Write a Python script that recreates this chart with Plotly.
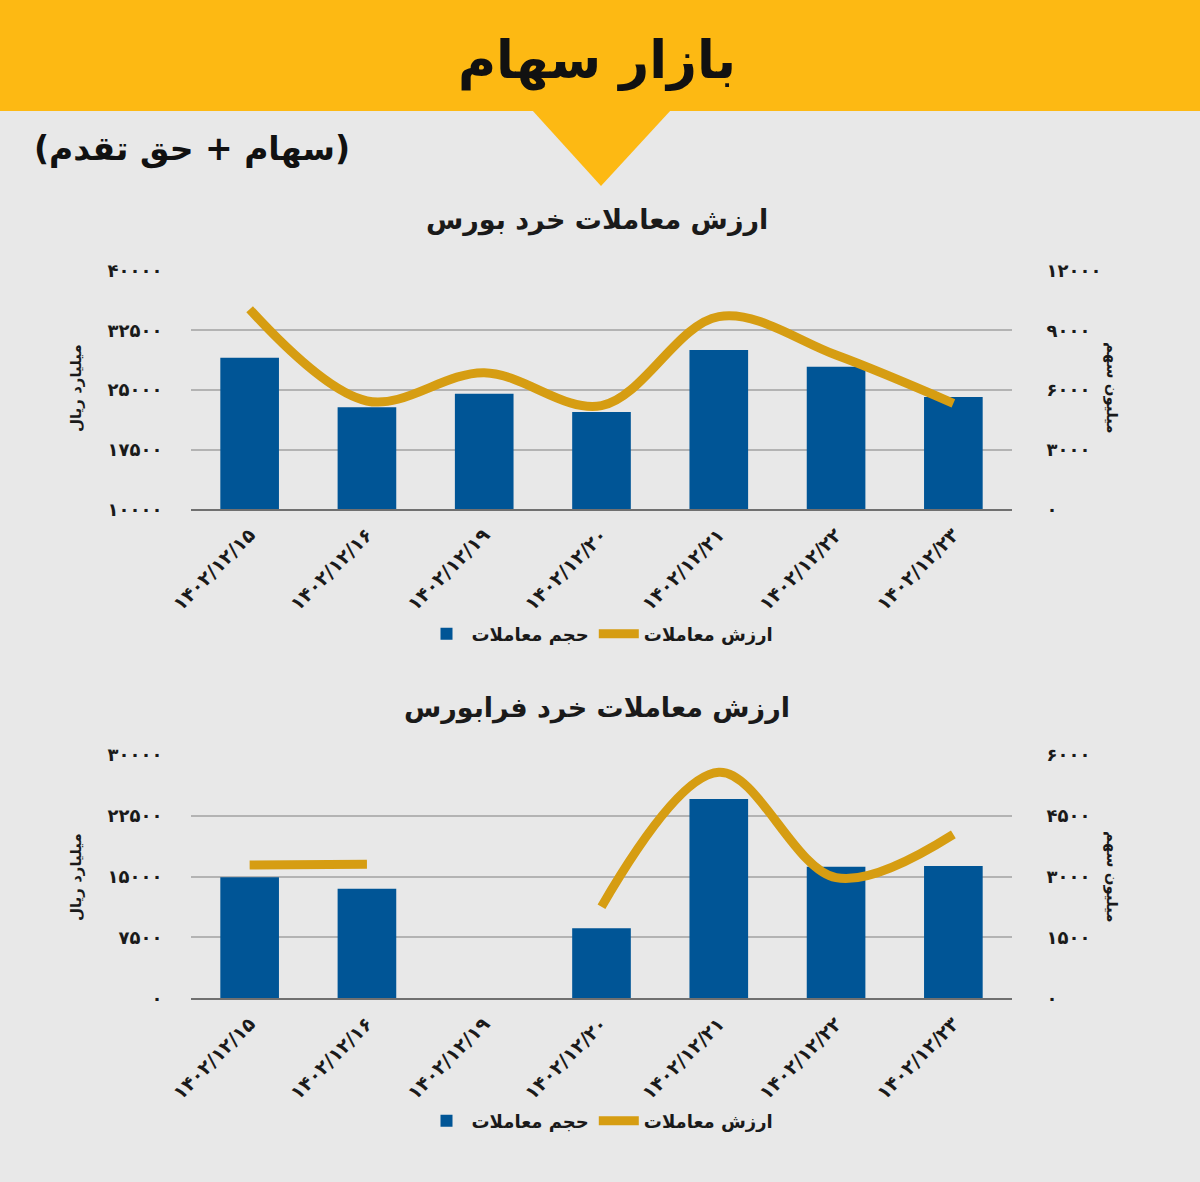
import plotly.graph_objects as go

# ---------------- data ----------------
categories = ["۱۴۰۲/۱۲/۱۵", "۱۴۰۲/۱۲/۱۶", "۱۴۰۲/۱۲/۱۹", "۱۴۰۲/۱۲/۲۰",
              "۱۴۰۲/۱۲/۲۱", "۱۴۰۲/۱۲/۲۲", "۱۴۰۲/۱۲/۲۳"]

# بورس
bourse_volume = [7625, 5130, 5814, 4894, 8012, 7172, 5648]        # million shares (right axis)
bourse_value = [35150, 23620, 27180, 23030, 34220, 29400, 23330]  # billion rial (left axis)

# فرابورس
fara_volume = [2984, 2703, None, 1726, 4915, 3245, 3263]
fara_value = [16440, 16520, None, 11300, 27870, 14870, 20220]

bourse_left_ticks = [10000, 17500, 25000, 32500, 40000]
bourse_right_ticks = [0, 3000, 6000, 9000, 12000]
fara_left_ticks = [0, 7500, 15000, 22500, 30000]
fara_right_ticks = [0, 1500, 3000, 4500, 6000]

title_main = "بازار سهام"
subtitle = "(سهام + حق تقدم)"
title_bourse = "ارزش معاملات خرد بورس"
title_fara = "ارزش معاملات خرد فرابورس"
left_axis_title = "میلیارد ریال"
right_axis_title = "میلیون سهم"
name_volume = "حجم معاملات"
name_value = "ارزش معاملات"

# ---------------- styles ----------------
W, H = 1200, 1182
BG = "#E8E8E8"
YELLOW = "#FDB913"
BLUE = "#005596"
GOLD = "#D69D12"
GRID = "#B3B3B3"
AXIS = "#707070"
TXT = "#1A1A1A"
FONT = "DejaVu Sans"

FA_DIGITS = str.maketrans("0123456789", "۰۱۲۳۴۵۶۷۸۹")


def fa(v):
    return str(v).translate(FA_DIGITS)


def px_x(x):
    return x / W


def px_y(y):
    return 1 - y / H


fig = go.Figure()

# top chart
fig.add_trace(go.Bar(x=categories, y=bourse_volume, name=name_volume,
                     marker=dict(color=BLUE, line=dict(width=0)),
                     xaxis="x", yaxis="y", legend="legend"))
fig.add_trace(go.Scatter(x=categories, y=bourse_value, name=name_value, mode="lines",
                         line=dict(color=GOLD, width=9, shape="spline", smoothing=1.0),
                         xaxis="x", yaxis="y2", legend="legend"))
# bottom chart
fig.add_trace(go.Bar(x=categories, y=fara_volume, name=name_volume,
                     marker=dict(color=BLUE, line=dict(width=0)),
                     xaxis="x2", yaxis="y3", legend="legend2"))
fig.add_trace(go.Scatter(x=categories, y=fara_value, name=name_value, mode="lines",
                         connectgaps=False,
                         line=dict(color=GOLD, width=9, shape="spline", smoothing=1.0),
                         xaxis="x2", yaxis="y4", legend="legend2"))

xdom = [px_x(191), px_x(1012)]
tick_font = dict(family=FONT, size=18, color=TXT, weight="bold")
xtick_font = dict(family=FONT, size=19, color=TXT, weight="bold")

common_x = dict(domain=xdom, type="category", showgrid=False, showline=True,
                linecolor=AXIS, linewidth=2, tickangle=-45, ticks="outside",
                ticklen=5, tickcolor="rgba(0,0,0,0)", tickfont=xtick_font,
                fixedrange=True, automargin=False)


def yax(domain, rng, ticks, side, anchor, overlay=None, grid=True, ticklen=24):
    d = dict(domain=domain, range=rng, tickvals=ticks, ticktext=[fa(t) for t in ticks],
             side=side, anchor=anchor, showgrid=grid, gridcolor=GRID, gridwidth=1.5,
             zeroline=False, showline=False, ticks="outside", ticklen=ticklen,
             tickcolor="rgba(0,0,0,0)", tickfont=tick_font, fixedrange=True,
             automargin=False)
    if overlay:
        d["overlaying"] = overlay
    return d


top_dom = [px_y(509.3), px_y(270.7)]
bot_dom = [px_y(998.3), px_y(755)]

legend_common = dict(orientation="h", xanchor="center", yanchor="middle",
                     bgcolor="rgba(0,0,0,0)",
                     font=dict(family=FONT, size=18, color=TXT, weight="bold"),
                     traceorder="normal", itemwidth=40)

fig.update_layout(
    width=W, height=H, autosize=False,
    margin=dict(l=0, r=0, t=0, b=0, pad=0, autoexpand=False),
    paper_bgcolor=BG, plot_bgcolor=BG,
    bargap=0.5,
    xaxis=dict(common_x, anchor="y"),
    xaxis2=dict(common_x, anchor="y3"),
    yaxis=yax(top_dom, [0, 12000], bourse_right_ticks, "right", "x", ticklen=30),
    yaxis2=yax(top_dom, [10000, 40000], bourse_left_ticks, "left", "x", overlay="y", grid=False),
    yaxis3=yax(bot_dom, [0, 6000], fara_right_ticks, "right", "x2", ticklen=30),
    yaxis4=yax(bot_dom, [0, 30000], fara_left_ticks, "left", "x2", overlay="y3", grid=False),
    legend=dict(legend_common, x=0.5, y=px_y(634)),
    legend2=dict(legend_common, x=0.5, y=px_y(1121)),
    showlegend=True,
)

# header band and pointer
fig.add_shape(type="rect", xref="paper", yref="paper", x0=0, x1=1,
              y0=px_y(111), y1=1, fillcolor=YELLOW, line=dict(width=0), layer="below")
fig.add_shape(type="path", xref="paper", yref="paper",
              path=f"M {px_x(532)} {px_y(110)} L {px_x(671)} {px_y(110)} L {px_x(601)} {px_y(186)} Z",
              fillcolor=YELLOW, line=dict(width=0), layer="below")

ann = []
ann.append(dict(text=title_main, x=px_x(597), y=px_y(60), font=dict(family=FONT, size=52, color="#111", weight="bold")))
ann.append(dict(text=subtitle, x=px_x(192), y=px_y(149), font=dict(family=FONT, size=33, color="#111", weight="bold")))
ann.append(dict(text=title_bourse, x=px_x(597), y=px_y(220), font=dict(family=FONT, size=27, color=TXT, weight="bold")))
ann.append(dict(text=title_fara, x=px_x(597), y=px_y(708), font=dict(family=FONT, size=27, color=TXT, weight="bold")))
for yc in (388, 877):
    ann.append(dict(text=left_axis_title, x=px_x(76), y=px_y(yc), textangle=-90,
                    font=dict(family=FONT, size=15, color=TXT, weight="bold")))
    ann.append(dict(text=right_axis_title, x=px_x(1112), y=px_y(yc), textangle=90,
                    font=dict(family=FONT, size=15, color=TXT, weight="bold")))
for a in ann:
    a.update(xref="paper", yref="paper", showarrow=False, xanchor="center", yanchor="middle")
    fig.add_annotation(**a)

fig.write_html(
    "out.html",
    config={"displayModeBar": False, "responsive": False},
    post_script="document.body.style.margin='0';document.body.style.overflow='hidden';"
                "document.body.style.background='#E8E8E8';",
)
